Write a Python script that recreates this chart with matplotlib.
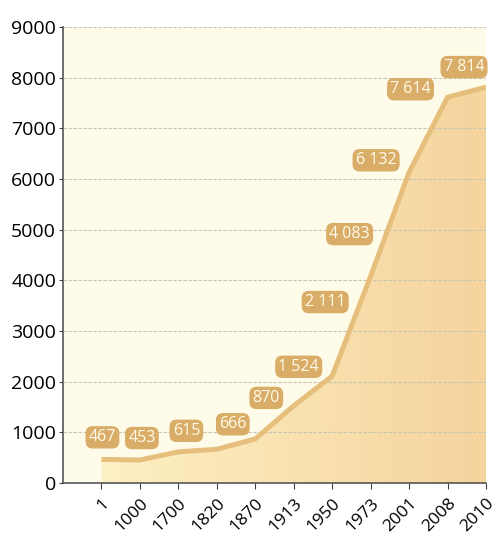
import matplotlib.pyplot as plt
import matplotlib.transforms as mtransforms
import numpy as np
from matplotlib.colors import LinearSegmentedColormap

anos = ['1', '1000', '1700', '1820', '1870', '1913', '1950', '1973', '2001', '2008', '2010']
populacao = [467, 453, 615, 666, 870, 1524, 2111, 4083, 6132, 7614, 7814]
rotulos = ['467', '453', '615', '666', '870', '1 524', '2 111', '4 083', '6 132', '7 614', '7 814']

# deslocamento de cada etiqueta em relacao ao ponto (pixels)
desloc = [(1, 22), (2, 22), (8, 21), (16, 25), (11, 41), (5, 39),
          (-7, 74), (-21, 42), (-33, 12), (-37, 8), (-22, 20)]

plt.rcParams['font.family'] = ['Open Sans', 'DejaVu Sans']

fig = plt.figure(figsize=(4.96, 5.40), dpi=100)
ax = fig.add_axes([63 / 496, 57 / 540, 423 / 496, 456 / 540])
ax.set_facecolor('#fefce9')

x = np.arange(1, len(anos) + 1)

# area com degrade horizontal
area = ax.fill_between(x, populacao, 0, color='none', zorder=1)
grad = np.linspace(0, 1, 256).reshape(1, -1)
cmap = LinearSegmentedColormap.from_list('areia', ['#fdf0c4', '#f9e2b0', '#f5d49e'])
img = ax.imshow(grad, cmap=cmap, aspect='auto', extent=[1, 11, 0, 8000],
                origin='lower', zorder=1)
img.set_clip_path(area.get_paths()[0], transform=ax.transData)

ax.plot(x, populacao, color='#e7bf7c', lw=3.6, solid_capstyle='butt',
        solid_joinstyle='round', zorder=3)

for xi, yi, txt, (dx, dy) in zip(x, populacao, rotulos, desloc):
    ax.annotate(txt, (xi, yi), xytext=(dx, dy), textcoords='offset pixels',
                ha='center', va='center', fontsize=11.5, color='#fffbea',
                bbox=dict(boxstyle='round,pad=0.2,rounding_size=0.45',
                          fc='#d9ad67', ec='none'), zorder=5)

ax.set_xlim(0, 11)
ax.set_ylim(0, 9000)
ax.set_yticks(range(0, 9001, 1000))
ax.set_xticks(x)
ax.set_xticklabels(anos, rotation=45, ha='right', va='top',
                   rotation_mode='anchor', fontsize=12.5)
# empurra os anos um pouco para a direita
desvio = mtransforms.ScaledTranslation(3 / 100, 0, fig.dpi_scale_trans)
for lbl in ax.get_xticklabels():
    lbl.set_transform(lbl.get_transform() + desvio)
ax.tick_params(axis='y', labelsize=14, length=3, color='#444444', pad=2)
ax.tick_params(axis='x', length=4, color='#444444', pad=5)

ax.grid(axis='y', color='#c8c4b4', lw=0.8, ls=(0, (3, 1.5)), zorder=2)
ax.set_axisbelow(False)
for lado in ['top', 'right']:
    ax.spines[lado].set_visible(False)
for lado in ['left', 'bottom']:
    ax.spines[lado].set_color('#555555')
    ax.spines[lado].set_linewidth(1.2)

fig.savefig('out.png', dpi=100)
